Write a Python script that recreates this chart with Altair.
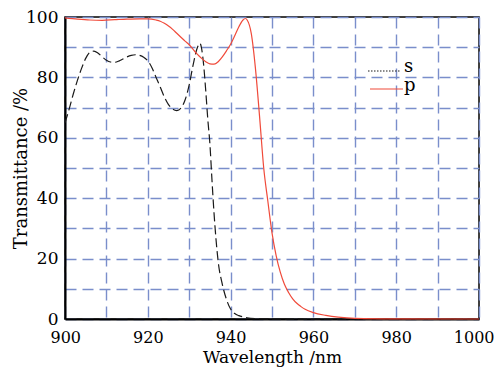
import altair as alt
import pandas as pd

s_wl = [900, 901, 902, 903, 904, 905, 906, 907, 908, 909, 910, 911, 912, 913, 914, 915,
        916, 917, 918, 919, 920, 921, 922, 923, 924, 925, 926, 927, 928, 929, 930, 931,
        932, 932.6, 933, 933.5, 934, 934.5, 935, 935.5, 936, 936.5, 937, 938, 939, 940,
        941, 942, 943, 944, 946, 950, 960, 1000]
s_t = [65, 69.5, 74.5, 79, 83, 86.3, 88.3, 88.7, 88, 86.8, 85.7, 85.1, 85, 85.4, 86.1, 86.8,
       87.3, 87.5, 87.3, 86.7, 85.5, 83.2, 80, 76.8, 73.5, 71, 69.5, 69, 69.8, 72.5, 77.5, 84.5,
       90, 91.3, 89.5, 84, 75.5, 66, 58, 46, 35, 26, 19, 11.5, 6.5, 3.3,
       1.8, 1.1, 0.7, 0.4, 0.15, 0.05, 0, 0]

p_wl = [900, 903, 906, 909, 912, 915, 918, 920, 922, 923, 924, 925, 926, 927, 928, 929, 930,
        931, 932, 933, 934, 935, 936, 937, 938, 939, 940, 941, 942, 943, 943.6, 944, 945,
        946, 947, 948, 949, 950, 951, 952, 953, 954, 955, 956, 957, 958, 960, 963, 966,
        970, 980, 1000]
p_t = [99.7, 99.3, 99, 98.9, 99.1, 99.3, 99.4, 99.4, 99, 98.6, 97.9, 97, 95.9, 94.6, 93.3, 92,
       90.8, 89.2, 87.6, 86.3, 85.2, 84.5, 84.4, 85.2, 86.8, 88.8, 91, 93.8, 96.8, 99, 99.5, 99,
       94.5, 83, 67, 50, 39, 28.5, 21, 15.5, 11.5, 8.8, 6.7, 5.2, 4.1, 3.2, 2.1, 1.2, 0.6,
       0.2, 0.05, 0]

x_ticks = list(range(900, 1001, 10))
y_ticks = list(range(0, 101, 10))

FONT = "DejaVu Serif"
GRID = "#7a8ecb"

s_df = pd.DataFrame({"wl": s_wl, "t": s_t})
p_df = pd.DataFrame({"wl": p_wl, "t": p_t})

x_enc = alt.X("wl:Q", scale=alt.Scale(domain=[900, 1000], nice=False),
              axis=alt.Axis(values=x_ticks, title="Wavelength /nm", format="d",
                            labelFlush=True, labelFlushOffset=15,
                            labelExpr="datum.value % 20 == 0 ? datum.label : ''"))
y_enc = alt.Y("t:Q", scale=alt.Scale(domain=[0, 100], nice=False),
              axis=alt.Axis(values=y_ticks, title="Transmittance /%", format="d", labelFlush=False,
                            labelExpr="datum.value % 20 == 0 ? datum.label : ''",
                            titleX=-44, titleY=151, titleAngle=-90,
                            titleAlign="center", titleBaseline="middle"))

s_line = alt.Chart(s_df).mark_line(color="#1a1a1a", strokeWidth=1.2, strokeDash=[9, 4],
                                   interpolate="monotone").encode(x=x_enc, y=y_enc)
p_line = alt.Chart(p_df).mark_line(color="#f04a3a", strokeWidth=1.2,
                                   interpolate="monotone").encode(x=x_enc, y=y_enc)

leg_s = alt.Chart(s_df.head(1)).mark_rule(color="#1a1a1a", strokeWidth=1.2,
                                         strokeDash=[1.5, 1.5]).encode(
    x=alt.value(303), x2=alt.value(336), y=alt.value(54))
leg_p = alt.Chart(p_df.head(1)).mark_rule(color="#f04a3a", strokeWidth=1.2).encode(
    x=alt.value(305), x2=alt.value(338), y=alt.value(72))
txt_s = alt.Chart(s_df.head(1)).mark_text(text="s", font=FONT, fontSize=18, align="left",
                                         baseline="middle", color="black").encode(
    x=alt.value(339), y=alt.value(50))
txt_p = alt.Chart(p_df.head(1)).mark_text(text="p", font=FONT, fontSize=18, align="left",
                                         baseline="middle", color="black").encode(
    x=alt.value(339), y=alt.value(69))

chart = alt.layer(s_line, p_line, leg_s, leg_p, txt_s, txt_p).properties(
    width=414, height=302,
    autosize=alt.AutoSizeParams(type="none"),
    padding={"left": 57, "top": 9, "right": 15, "bottom": 55},
).configure_view(stroke="black", strokeWidth=1.5).configure_axis(
    grid=True, gridColor=GRID, gridDash=[11, 6], gridWidth=1.4, gridOpacity=1,
    ticks=False, domainColor="black", domainWidth=2,
    labelFont=FONT, labelFontSize=17, labelColor="black",
    titleFont=FONT, titleFontSize=18, titleFontWeight="normal", titleColor="black",
).configure_axisY(labelPadding=7).configure_axisX(labelPadding=10, labelFontSize=16,
                                                  titleFontSize=17, titlePadding=4)

chart.save("out.html", embed_options={"renderer": "svg", "actions": False})
